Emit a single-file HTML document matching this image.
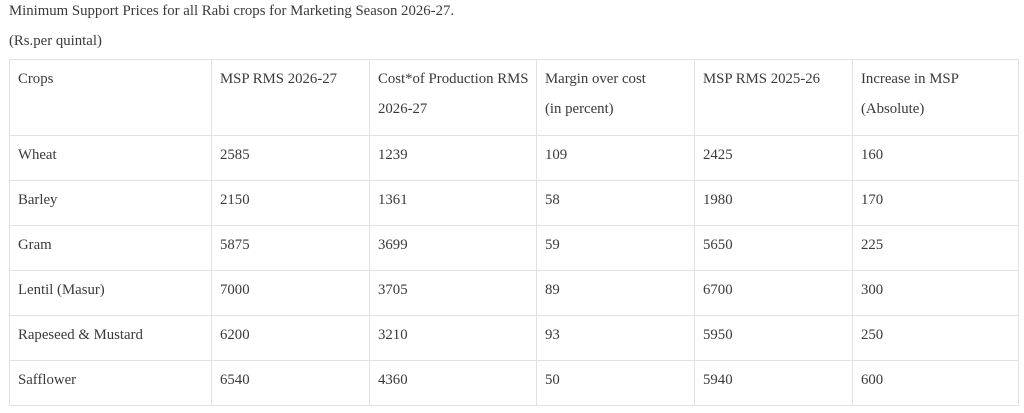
<!DOCTYPE html>
<html><head><style>
body{margin:0;width:1024px;height:413px;background:#fff;font-family:"Liberation Serif",serif;color:#3a3a3a;font-size:14.8px;overflow:hidden;position:relative}
.t{position:absolute;left:9px;white-space:nowrap}
table{position:absolute;left:9px;top:59px;border-collapse:collapse;width:1009px;table-layout:fixed}
td{border:1px solid #e2e2e2;vertical-align:top;padding:4px 0 0 8px;line-height:30px;box-sizing:border-box;white-space:nowrap;overflow:hidden}
tr.h{height:76px}
tr.r{height:45px}
</style></head><body>
<div class="t" style="top:1px;line-height:20px">Minimum Support Prices for all Rabi crops for Marketing Season 2026-27.</div>
<div class="t" style="top:31px;line-height:20px">(Rs.per quintal)</div>
<table>
<colgroup><col style="width:202px"><col style="width:158px"><col style="width:167px"><col style="width:158px"><col style="width:158px"><col style="width:166px"></colgroup>
<tr class="h"><td>Crops</td><td>MSP RMS 2026-27</td><td>Cost*of Production RMS<br>2026-27</td><td>Margin over cost<br>(in percent)</td><td>MSP RMS 2025-26</td><td>Increase in MSP<br>(Absolute)</td></tr>
<tr class="r"><td>Wheat</td><td>2585</td><td>1239</td><td>109</td><td>2425</td><td>160</td></tr>
<tr class="r"><td>Barley</td><td>2150</td><td>1361</td><td>58</td><td>1980</td><td>170</td></tr>
<tr class="r"><td>Gram</td><td>5875</td><td>3699</td><td>59</td><td>5650</td><td>225</td></tr>
<tr class="r"><td>Lentil (Masur)</td><td>7000</td><td>3705</td><td>89</td><td>6700</td><td>300</td></tr>
<tr class="r"><td>Rapeseed &amp; Mustard</td><td>6200</td><td>3210</td><td>93</td><td>5950</td><td>250</td></tr>
<tr class="r"><td>Safflower</td><td>6540</td><td>4360</td><td>50</td><td>5940</td><td>600</td></tr>
</table>
</body></html>
